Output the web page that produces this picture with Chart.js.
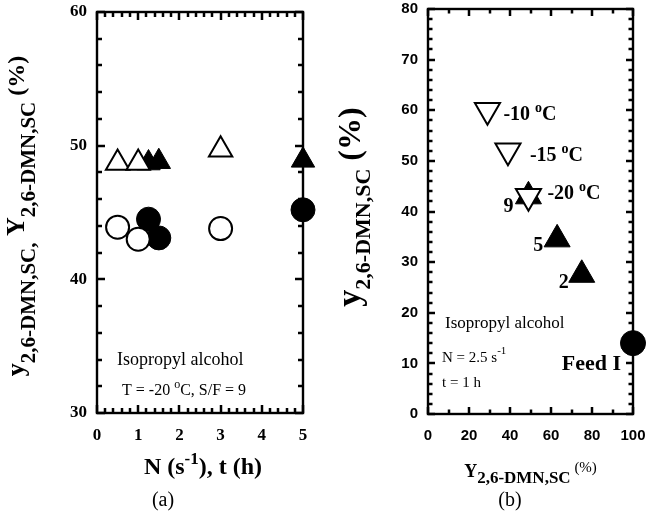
<!DOCTYPE html>
<html>
<head>
<meta charset="utf-8">
<script src="https://cdn.jsdelivr.net/npm/chart.js@4.4.1/dist/chart.umd.min.js"></script>
<style>
  body { margin: 0; background: #fff; }
  #wrap { position: relative; width: 646px; height: 521px; }
  #ca { position: absolute; left: 0; top: 0; }
  #cb { position: absolute; left: 330px; top: 0; }
</style>
</head>
<body>
<div id="wrap">
  <canvas id="ca" width="330" height="521"></canvas>
  <canvas id="cb" width="316" height="521"></canvas>
</div>
<script>
// panel (a) : N (s-1) / t (h) against y and Y
const aOpenTriX = [0.5, 1, 3]
const aOpenTriY = [48.7, 48.7, 49.7]
const aFillTriX = [1.25, 1.5, 5]
const aFillTriY = [48.7, 48.8, 48.9]
const aOpenCircX = [0.5, 1, 3]
const aOpenCircY = [43.9, 43.0, 43.8]
const aFillCircX = [1.25, 1.5, 5]
const aFillCircY = [44.5, 43.1, 45.2]

// panel (b) : Y against y
const bDownX = [29, 39, 49]
const bDownY = [60, 52, 43]
const bDownLabels = ['-10 ', '-15 ', '-20 ']
const bUpX = [49, 63, 75]
const bUpY = [43, 34.5, 27.5]
const bUpLabels = ['9', '5', '2']
const bFeedX = [100]
const bFeedY = [14]

const SERIF = '"Liberation Serif", "Times New Roman", serif'
const SANS = '"Liberation Sans", Arial, sans-serif'

function pts(xs, ys) {
  return xs.map((x, i) => ({x: x, y: ys[i]}))
}

// text made of pieces with own font and baseline shift
function rich(ctx, parts, x, y, align, rot) {
  ctx.save()
  ctx.translate(x, y)
  if (rot) ctx.rotate(rot)
  let w = 0
  for (const p of parts) { ctx.font = p.f; w += ctx.measureText(p.t).width }
  let cx = align == 'center' ? -w / 2 : (align == 'right' ? -w : 0)
  ctx.textAlign = 'left'
  ctx.textBaseline = 'alphabetic'
  ctx.fillStyle = '#000'
  for (const p of parts) {
    ctx.font = p.f
    ctx.fillText(p.t, cx, p.dy || 0)
    cx += ctx.measureText(p.t).width
  }
  ctx.restore()
}

// box round the plot + inward ticks on all 4 sides
function frameTicks(xMinor, xMajor, yMinor, yMajor, bigLen, smallLen) {
  return {
    id: 'frameTicks',
    beforeDatasetsDraw(chart) {
      const ctx = chart.ctx
      const a = chart.chartArea
      const xs = chart.scales.x, ys = chart.scales.y
      const w = 2.5
      ctx.save()
      ctx.fillStyle = '#000'
      const nx = Math.round((xs.max - xs.min) / xMinor)
      for (let i = 0; i <= nx; i++) {
        const v = xs.min + i * xMinor
        const big = Math.abs(v / xMajor - Math.round(v / xMajor)) < 1e-6
        const len = big ? bigLen : smallLen
        const px = Math.round(xs.getPixelForValue(v))
        ctx.fillRect(px - w / 2, a.bottom - len, w, len)
        ctx.fillRect(px - w / 2, a.top, w, len)
      }
      const ny = Math.round((ys.max - ys.min) / yMinor)
      for (let i = 0; i <= ny; i++) {
        const v = ys.min + i * yMinor
        const big = Math.abs(v / yMajor - Math.round(v / yMajor)) < 1e-6
        const len = big ? bigLen : smallLen
        const py = Math.round(ys.getPixelForValue(v))
        ctx.fillRect(a.left, py - w / 2, len, w)
        ctx.fillRect(a.right - len, py - w / 2, len, w)
      }
      ctx.strokeStyle = '#000'
      ctx.lineWidth = 2.4
      ctx.strokeRect(a.left, a.top, a.right - a.left, a.bottom - a.top)
      ctx.restore()
    }
  }
}

const textA = {
  id: 'textA',
  afterDraw(chart) {
    const ctx = chart.ctx
    const a = chart.chartArea
    const b = 'bold 26px ' + SERIF, s = 'bold 21px ' + SERIF
    rich(ctx, [
      {t: 'y', f: b}, {t: '2,6-DMN,SC,', f: s, dy: 11},
      {t: ' Y', f: b}, {t: '2,6-DMN,SC', f: s, dy: 11},
      {t: ' (%)', f: 'bold 24px ' + SERIF}
    ], 24, 216, 'center', -Math.PI / 2)
    rich(ctx, [
      {t: 'N (s', f: 'bold 24px ' + SERIF},
      {t: '-1', f: 'bold 17px ' + SERIF, dy: -10},
      {t: '), t (h)', f: 'bold 24px ' + SERIF}
    ], (a.left + a.right) / 2 + 3, 474, 'center')
    rich(ctx, [{t: '(a)', f: '20px ' + SERIF}], 163, 506, 'center')
    rich(ctx, [{t: 'Isopropyl alcohol', f: '18px ' + SERIF}], 117, 365, 'left')
    rich(ctx, [
      {t: 'T = -20 ', f: '16px ' + SERIF},
      {t: 'o', f: '12px ' + SERIF, dy: -7},
      {t: 'C, S/F = 9', f: '16px ' + SERIF}
    ], 122, 395, 'left')
  }
}

const textB = {
  id: 'textB',
  afterDraw(chart) {
    const ctx = chart.ctx
    const xs = chart.scales.x, ys = chart.scales.y
    const a = chart.chartArea
    rich(ctx, [
      {t: 'y', f: 'bold 34px ' + SERIF},
      {t: '2,6-DMN,SC', f: 'bold 22px ' + SERIF, dy: 10},
      {t: ' (%)', f: 'bold 32px ' + SERIF}
    ], 30, 207, 'center', -Math.PI / 2)
    rich(ctx, [
      {t: 'Y', f: 'bold 18px ' + SERIF},
      {t: '2,6-DMN,SC', f: 'bold 17px ' + SERIF, dy: 6},
      {t: ' (%)', f: '15px ' + SERIF, dy: -5}
    ], (a.left + a.right) / 2, 477, 'center')
    rich(ctx, [{t: '(b)', f: '20px ' + SERIF}], 180, 506, 'center')
    rich(ctx, [{t: 'Isopropyl alcohol', f: '17px ' + SERIF}], 115, 328, 'left')
    rich(ctx, [
      {t: 'N = 2.5 s', f: '15px ' + SERIF},
      {t: '-1', f: '11px ' + SERIF, dy: -8}
    ], 112, 362, 'left')
    rich(ctx, [{t: 't = 1 h', f: '15px ' + SERIF}], 112, 387, 'left')

    // temperature labels next to the open triangles
    const tOff = [[16, 10], [22, 10], [19, 3]]
    bDownLabels.forEach((t, i) => {
      const px = xs.getPixelForValue(bDownX[i]) + tOff[i][0]
      const py = ys.getPixelForValue(bDownY[i]) + tOff[i][1]
      rich(ctx, [
        {t: t, f: 'bold 20px ' + SERIF},
        {t: 'o', f: 'bold 14px ' + SERIF, dy: -8},
        {t: 'C', f: 'bold 20px ' + SERIF}
      ], px, py, 'left')
    })
    // S/F labels left of the filled triangles
    const sOff = [[-15, 16], [-14, 12], [-13, 13]]
    bUpLabels.forEach((t, i) => {
      const px = xs.getPixelForValue(bUpX[i]) + sOff[i][0]
      const py = ys.getPixelForValue(bUpY[i]) + sOff[i][1]
      rich(ctx, [{t: t, f: 'bold 20px ' + SERIF}], px, py, 'right')
    })
    rich(ctx, [{t: 'Feed I', f: 'bold 22px ' + SERIF}],
      xs.getPixelForValue(bFeedX[0]) - 12, ys.getPixelForValue(bFeedY[0]) + 27, 'right')
  }
}

// fixed axis size, no extra label overhang padding
function axis(min, max, step, font, pad, size) {
  return {
    min: min, max: max,
    ticks: {stepSize: step, color: '#000', font: font, padding: pad, autoSkip: false, maxRotation: 0},
    grid: {display: false, drawTicks: false},
    border: {display: false},
    afterFit(s) {
      if (s.isHorizontal()) s.height = size
      else s.width = size
      s.paddingTop = 0; s.paddingBottom = 0; s.paddingLeft = 0; s.paddingRight = 0
    }
  }
}

const tickFontA = {family: SERIF, size: 17, weight: 'bold'}
new Chart(document.getElementById('ca'), {
  type: 'scatter',
  data: {
    datasets: [
      {data: pts(aOpenTriX, aOpenTriY), pointStyle: 'triangle', pointRadius: 13.5,
       backgroundColor: '#fff', borderColor: '#000', borderWidth: 2, clip: false},
      {data: pts(aFillTriX, aFillTriY), pointStyle: 'triangle', pointRadius: 13.5,
       backgroundColor: '#000', borderColor: '#000', borderWidth: 1, clip: false},
      {data: pts(aOpenCircX, aOpenCircY), pointStyle: 'circle', pointRadius: 11.5,
       backgroundColor: '#fff', borderColor: '#000', borderWidth: 2, clip: false},
      {data: pts(aFillCircX, aFillCircY), pointStyle: 'circle', pointRadius: 12,
       backgroundColor: '#000', borderColor: '#000', borderWidth: 1, clip: false}
    ]
  },
  options: {
    responsive: false, animation: false, events: [],
    layout: {autoPadding: false, padding: {left: 0, top: 12, right: 27, bottom: 0}},
    plugins: {legend: {display: false}, tooltip: {enabled: false}},
    scales: {
      x: axis(0, 5, 1, tickFontA, 12, 108),
      y: axis(30, 60, 10, tickFontA, 10, 97)
    }
  },
  plugins: [frameTicks(0.2, 1, 2, 10, 8, 5), textA]
})

const tickFontB = {family: SANS, size: 15, weight: 'bold'}
new Chart(document.getElementById('cb'), {
  type: 'scatter',
  data: {
    datasets: [
      {data: pts(bDownX, bDownY), pointStyle: 'triangle', pointRotation: 180, pointRadius: 14.5,
       backgroundColor: '#fff', borderColor: '#000', borderWidth: 2, clip: false},
      {data: pts(bUpX, bUpY), pointStyle: 'triangle', pointRadius: 15,
       backgroundColor: '#000', borderColor: '#000', borderWidth: 1, clip: false},
      {data: pts(bFeedX, bFeedY), pointStyle: 'circle', pointRadius: 12.5,
       backgroundColor: '#000', borderColor: '#000', borderWidth: 1, clip: false}
    ]
  },
  options: {
    responsive: false, animation: false, events: [],
    layout: {autoPadding: false, padding: {left: 0, top: 9, right: 13, bottom: 0}},
    plugins: {legend: {display: false}, tooltip: {enabled: false}},
    scales: {
      x: axis(0, 100, 20, tickFontB, 13, 107),
      y: axis(0, 80, 10, tickFontB, 10, 98)
    }
  },
  plugins: [frameTicks(10, 20, 2, 10, 7, 4.5), textB]
})
</script>
</body>
</html>
